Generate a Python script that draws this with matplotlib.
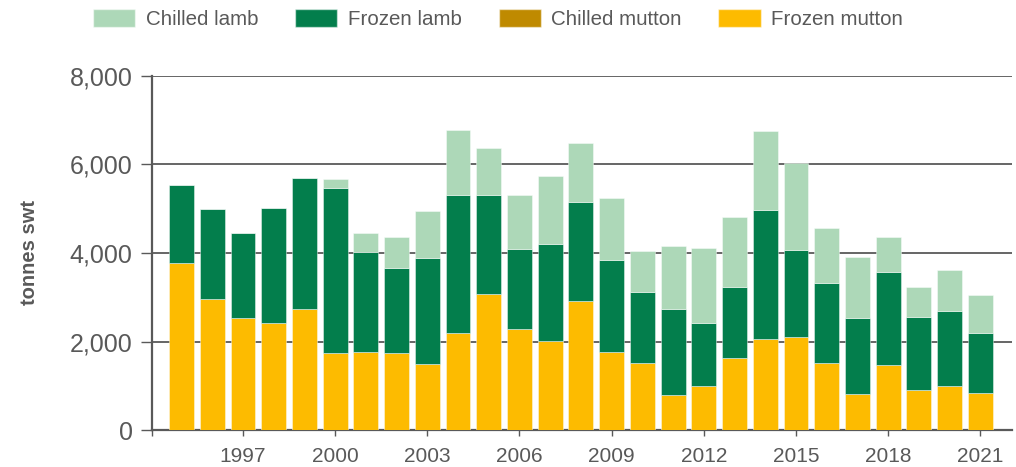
import matplotlib
matplotlib.use("Agg")
import matplotlib.pyplot as plt
import numpy as np
from matplotlib.patches import Patch

plt.rcParams["font.family"] = ["Liberation Sans", "DejaVu Sans"]

# Lamb and mutton volumes (tonnes swt)
years = list(range(1995, 2022))
frozen_mutton = [3780, 2970, 2520, 2420, 2730, 1740, 1770, 1750, 1490, 2200,
                 3070, 2290, 2010, 2920, 1755, 1505, 780, 1000, 1630, 2050,
                 2100, 1505, 815, 1470, 910, 1000, 830]
chilled_mutton = [0] * len(years)
frozen_lamb = [1760, 2030, 1930, 2590, 2960, 3730, 2260, 1920, 2400, 3120,
               2250, 1800, 2190, 2230, 2090, 1610, 1950, 1425, 1600, 2920,
               1960, 1810, 1710, 2090, 1640, 1700, 1360]
chilled_lamb = [0, 0, 0, 0, 0, 200, 420, 690, 1060, 1450,
                1050, 1230, 1540, 1330, 1390, 930, 1420, 1690, 1580, 1780,
                1970, 1240, 1380, 810, 690, 910, 850]

tick_years = [1997, 2000, 2003, 2006, 2009, 2012, 2015, 2018, 2021]
y_ticks = [0, 2000, 4000, 6000, 8000]

GREY = "#595959"
colors = {
    "Chilled lamb": "#ADD8B8",
    "Frozen lamb": "#037E4C",
    "Chilled mutton": "#BF8A00",
    "Frozen mutton": "#FDBB00",
}

fig = plt.figure(figsize=(10.16, 4.67), dpi=100)
ax = fig.add_axes([0.1496, 0.0792, 0.8465, 0.7581])

x = np.array(years)
w = 0.81
fm = np.array(frozen_mutton)
cm = np.array(chilled_mutton)
fl = np.array(frozen_lamb)
cl = np.array(chilled_lamb)
edge = dict(edgecolor=(1, 1, 1, 0.5), linewidth=0.6, zorder=3)
ax.bar(x, fm, w, color=colors["Frozen mutton"], **edge)
ax.bar(x, cm, w, bottom=fm, color=colors["Chilled mutton"], **edge)
ax.bar(x, fl, w, bottom=fm + cm, color=colors["Frozen lamb"], **edge)
ax.bar(x, cl, w, bottom=fm + cm + fl, color=colors["Chilled lamb"], **edge)

x0 = years[0] - 0.96
ax.set_xlim(x0, years[-1] + 1.03)
ax.set_ylim(0, 8000)
ax.set_yticks(y_ticks)
ax.set_yticklabels([f"{v:,}" for v in y_ticks])
ax.yaxis.grid(True, color=GREY, linewidth=1.3, zorder=1)
ax.set_axisbelow(True)

# unlabelled tick at the left end of the axis, as in the original
ax.set_xticks([x0] + tick_years)
ax.set_xticklabels([""] + [str(t) for t in tick_years])

for side in ["top", "right"]:
    ax.spines[side].set_visible(False)
for side in ["left", "bottom"]:
    ax.spines[side].set_color(GREY)
    ax.spines[side].set_linewidth(1.6)

ax.tick_params(axis="y", length=8, width=1, color=GREY, labelcolor=GREY,
               labelsize=18, pad=6, direction="out")
ax.tick_params(axis="x", length=4, width=1, color=GREY, labelcolor=GREY,
               labelsize=15, pad=8, direction="out")

ax.set_ylabel("tonnes swt", fontsize=14.5, fontweight="bold", color=GREY,
              labelpad=22)

handles = [Patch(facecolor=colors[k], edgecolor=(1, 1, 1, 0.5)) for k in colors]
leg = fig.legend(handles, list(colors), loc="center", ncol=4,
                 bbox_to_anchor=(498 / 1016, 1 - 19 / 467), frameon=False,
                 fontsize=14.8, handlelength=2.05, handleheight=0.95,
                 handletextpad=0.5, columnspacing=1.8, borderpad=0)
for t in leg.get_texts():
    t.set_color(GREY)

fig.savefig("out.png", dpi=100)
